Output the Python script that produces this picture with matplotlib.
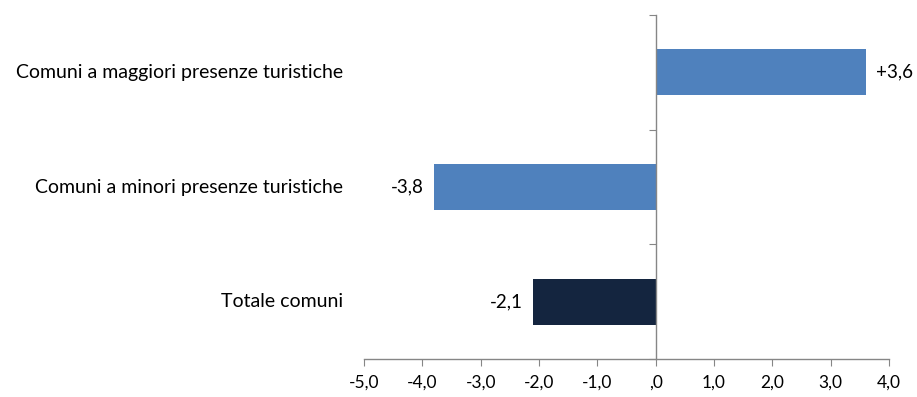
import matplotlib
matplotlib.use("Agg")
import matplotlib.pyplot as plt

# categories top to bottom and their percentage changes
categories = ["Comuni a maggiori presenze turistiche",
              "Comuni a minori presenze turistiche",
              "Totale comuni"]
values = [3.6, -3.8, -2.1]
value_labels = ["+3,6", "-3,8", "-2,1"]
bar_colors = ["#4F81BD", "#4F81BD", "#14253F"]

x_ticks = [-5, -4, -3, -2, -1, 0, 1, 2, 3, 4]
x_tick_labels = ["-5,0", "-4,0", "-3,0", "-2,0", "-1,0", ",0",
                 "1,0", "2,0", "3,0", "4,0"]

plt.rcParams['font.family'] = ['Lato', 'DejaVu Sans']
axis_grey = "#868686"

fig = plt.figure(figsize=(9.17, 3.97), dpi=100)
ax = fig.add_axes([364 / 917, 1 - 359 / 397, 525 / 917, 344 / 397])

pos = list(range(len(categories)))
ax.barh(pos, values, height=0.4, color=bar_colors, edgecolor="none")

ax.set_xlim(-5, 4)
ax.set_ylim(len(categories) - 0.5, -0.5)

ax.set_xticks(x_ticks)
ax.set_xticklabels(x_tick_labels, fontsize=12.5)
ax.tick_params(axis="x", direction="out", length=5, color=axis_grey, pad=6)

# vertical axis sits at zero, ticks mark the category boundaries
ax.spines["left"].set_position(("data", 0))
ax.set_yticks([p - 0.5 for p in pos] + [len(categories) - 0.5])
ax.set_yticklabels([])
ax.tick_params(axis="y", direction="out", length=5, color=axis_grey)

for side in ("top", "right"):
    ax.spines[side].set_visible(False)
for side in ("left", "bottom"):
    ax.spines[side].set_color(axis_grey)
    ax.spines[side].set_linewidth(1)

# category names to the left of the plot area
for p, name in zip(pos, categories):
    ax.text(-0.04, p, name, transform=ax.get_yaxis_transform(),
            ha="right", va="center", fontsize=14)

# value labels at the end of each bar
for p, v, lab in zip(pos, values, value_labels):
    off = 0.17 if v > 0 else -0.18
    ax.text(v + off, p, lab, ha="left" if v > 0 else "right",
            va="center", fontsize=13.5)

fig.savefig("out.png", dpi=100)
